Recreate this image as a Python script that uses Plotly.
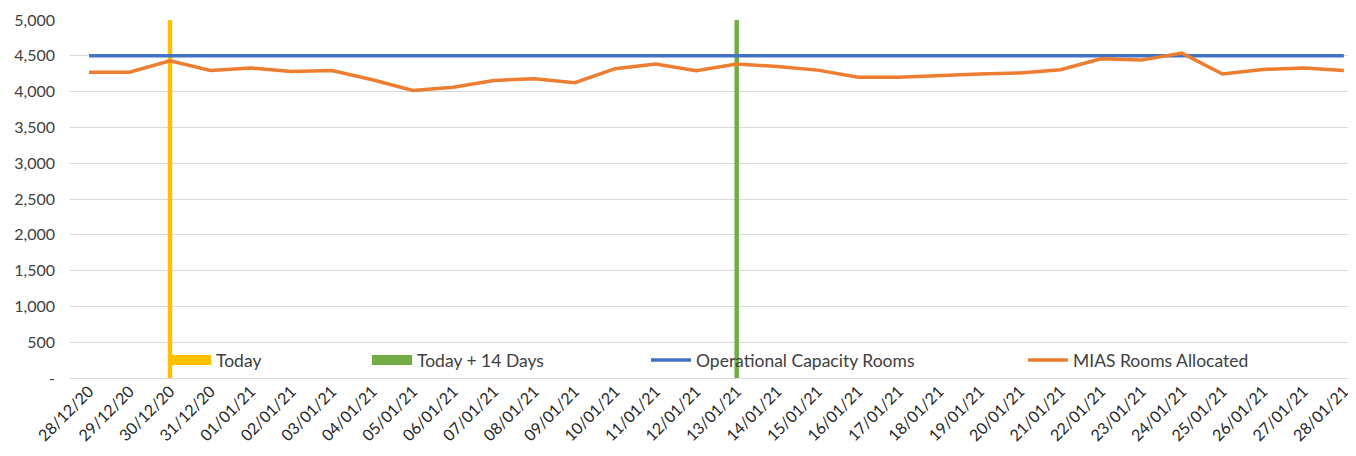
import plotly.graph_objects as go

dates = ["28/12/20", "29/12/20", "30/12/20", "31/12/20", "01/01/21", "02/01/21", "03/01/21",
         "04/01/21", "05/01/21", "06/01/21", "07/01/21", "08/01/21", "09/01/21", "10/01/21",
         "11/01/21", "12/01/21", "13/01/21", "14/01/21", "15/01/21", "16/01/21", "17/01/21",
         "18/01/21", "19/01/21", "20/01/21", "21/01/21", "22/01/21", "23/01/21", "24/01/21",
         "25/01/21", "26/01/21", "27/01/21", "28/01/21"]

mias_allocated = [4270, 4270, 4430, 4295, 4330, 4280, 4295, 4165, 4015, 4060, 4155, 4180,
                  4125, 4320, 4385, 4290, 4385, 4350, 4300, 4200, 4200, 4227, 4245, 4260,
                  4305, 4458, 4440, 4537, 4245, 4310, 4330, 4296]

operational_capacity = [4500] * len(dates)

today_date = "30/12/20"
today_plus14_date = "13/01/21"
marker_height = 5000

y_tickvals = [0, 500, 1000, 1500, 2000, 2500, 3000, 3500, 4000, 4500, 5000]
y_ticktext = ["-", "500", "1,000", "1,500", "2,000", "2,500", "3,000", "3,500", "4,000", "4,500", "5,000"]

YELLOW = "#FFC000"
GREEN = "#70AD47"
BLUE = "#4472C4"
ORANGE = "#ED7D31"
FONT = "Lato"

fig = go.Figure()

# vertical marker columns (Excel bar series)
fig.add_trace(go.Bar(x=[today_date], y=[marker_height], width=0.11, marker_color=YELLOW,
                     marker_line_width=0, showlegend=False, name="Today"))
fig.add_trace(go.Bar(x=[today_plus14_date], y=[marker_height], width=0.11, marker_color=GREEN,
                     marker_line_width=0, showlegend=False, name="Today + 14 Days"))

# legend entries for the columns (thick swatches)
fig.add_trace(go.Scatter(x=[None], y=[None], mode="lines", line=dict(color=YELLOW, width=10),
                         name="Today", legend="legend"))
fig.add_trace(go.Scatter(x=[None], y=[None], mode="lines", line=dict(color=GREEN, width=10),
                         name="Today + 14 Days", legend="legend2"))

fig.add_trace(go.Scatter(x=dates, y=operational_capacity, mode="lines",
                         line=dict(color=BLUE, width=3.5), name="Operational Capacity Rooms",
                         legend="legend3"))
fig.add_trace(go.Scatter(x=dates, y=mias_allocated, mode="lines",
                         line=dict(color=ORANGE, width=3.5), name="MIAS Rooms Allocated",
                         legend="legend4"))

# the page body has an 8px margin, so the figure is drawn at (8, 8)
OFF = 8
L, R = 70, 1356
W = R - L


def lx(px):
    return (px - L) / W


leg_common = dict(orientation="h", yanchor="middle", y=0.05, xanchor="left",
                  bgcolor="rgba(0,0,0,0)", font=dict(family=FONT, size=17.5, color="#404040"),
                  itemwidth=40)

fig.update_layout(
    width=1356 - OFF, height=456 - OFF,
    margin=dict(l=L - OFF, r=0, t=20 - OFF, b=78),
    paper_bgcolor="white", plot_bgcolor="white",
    font=dict(family=FONT, size=16, color="#404040"),
    barmode="overlay",
    legend=dict(leg_common, x=lx(166)),
    legend2=dict(leg_common, x=lx(367)),
    legend3=dict(leg_common, x=lx(646)),
    legend4=dict(leg_common, x=lx(1023)),
    xaxis=dict(type="category", categoryorder="array", categoryarray=dates,
               range=[-0.47, 31.3], tickangle=-45, showgrid=False, showline=False,
               ticks="", tickfont=dict(family=FONT, size=16, color="#262626")),
    yaxis=dict(range=[0, 5000], tickvals=y_tickvals, ticktext=y_ticktext,
               showgrid=True, gridcolor="#D9D9D9", gridwidth=1, zeroline=True,
               zerolinecolor="#D9D9D9", zerolinewidth=1, showline=False, ticks="",
               ticklabelstandoff=14, tickfont=dict(family=FONT, size=16, color="#404040")),
)

fig.write_html("out.html")
